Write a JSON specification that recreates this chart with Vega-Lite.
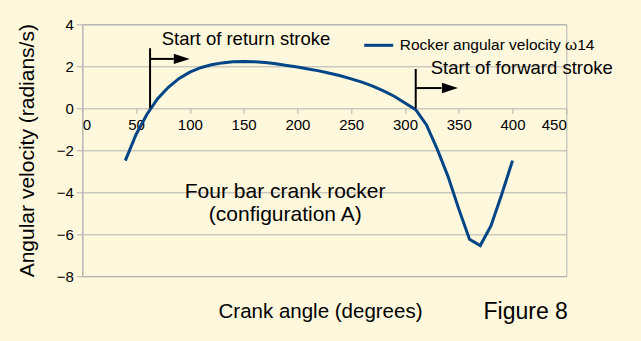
{
  "$schema": "https://vega.github.io/schema/vega-lite/v6.json",
  "width": 484,
  "height": 251.7,
  "autosize": {"type": "none"},
  "padding": {"left": 82.3, "top": 24.3, "right": 74.7, "bottom": 65},
  "background": "#fff8dc",
  "config": {
    "font": "Liberation Sans",
    "view": {"stroke": "#b3b3b3", "strokeWidth": 1}
  },
  "datasets": {
    "curve": [
      {"angle": 40, "omega": -2.5},
      {"angle": 50, "omega": -1.25},
      {"angle": 60, "omega": -0.3},
      {"angle": 70, "omega": 0.45},
      {"angle": 80, "omega": 1.0},
      {"angle": 90, "omega": 1.42},
      {"angle": 100, "omega": 1.72},
      {"angle": 110, "omega": 1.93},
      {"angle": 120, "omega": 2.07},
      {"angle": 130, "omega": 2.16},
      {"angle": 140, "omega": 2.21},
      {"angle": 150, "omega": 2.23},
      {"angle": 160, "omega": 2.22},
      {"angle": 170, "omega": 2.18},
      {"angle": 180, "omega": 2.12},
      {"angle": 190, "omega": 2.04},
      {"angle": 200, "omega": 1.96},
      {"angle": 210, "omega": 1.87},
      {"angle": 220, "omega": 1.78},
      {"angle": 230, "omega": 1.67},
      {"angle": 240, "omega": 1.55},
      {"angle": 250, "omega": 1.4},
      {"angle": 260, "omega": 1.24},
      {"angle": 270, "omega": 1.05},
      {"angle": 280, "omega": 0.83},
      {"angle": 290, "omega": 0.57},
      {"angle": 300, "omega": 0.25},
      {"angle": 310, "omega": -0.07},
      {"angle": 320, "omega": -0.8},
      {"angle": 330, "omega": -1.95},
      {"angle": 340, "omega": -3.25},
      {"angle": 350, "omega": -4.8},
      {"angle": 360, "omega": -6.25},
      {"angle": 370, "omega": -6.55},
      {"angle": 380, "omega": -5.6},
      {"angle": 390, "omega": -4.1},
      {"angle": 400, "omega": -2.5}
    ],
    "rules": [
      {"x": 63, "x2": 63, "y": 0, "y2": 2.86},
      {"x": 63, "x2": 85, "y": 2.35, "y2": 2.35},
      {"x": 310, "x2": 310, "y": 0, "y2": 1.87},
      {"x": 310, "x2": 334, "y": 0.96, "y2": 0.96}
    ],
    "heads": [
      {"x": 92.5, "y": 2.35},
      {"x": 341.8, "y": 0.96}
    ],
    "notes": [
      {"x": 73.8, "y": 3.03, "text": "Start of return stroke"},
      {"x": 324, "y": 1.645, "text": "Start of forward stroke"}
    ],
    "caption": [
      {"x": 188.6, "y": -4.28, "text": "Four bar crank rocker"},
      {"x": 188.7, "y": -5.38, "text": "(configuration A)"}
    ],
    "figure": [
      {"x": 373, "y": -10.04, "text": "Figure 8"}
    ]
  },
  "layer": [
    {
      "data": {"name": "curve"},
      "mark": {"type": "line", "strokeWidth": 3, "interpolate": "linear"},
      "encoding": {
        "x": {
          "field": "angle", "type": "quantitative",
          "scale": {"domain": [0, 450], "nice": false},
          "axis": {
            "orient": "bottom", "offset": -167.5,
            "values": [0, 50, 100, 150, 200, 250, 300, 350, 400, 450],
            "grid": false, "domain": false,
            "tickSize": 5, "tickColor": "#b3b3b3",
            "labelFontSize": 15, "labelColor": "#000000", "labelPadding": 4,
            "title": "Crank angle (degrees)",
            "titleFontSize": 20.5, "titleFontWeight": "normal", "titleColor": "#000000",
            "titleX": 237.7, "titleY": 209.2, "titleAlign": "center", "titleBaseline": "alphabetic"
          }
        },
        "y": {
          "field": "omega", "type": "quantitative",
          "scale": {"domain": [-8, 4], "nice": false},
          "axis": {
            "values": [-8, -6, -4, -2, 0, 2, 4],
            "grid": true, "gridColor": "#b3b3b3",
            "domain": true, "domainColor": "#b3b3b3",
            "tickSize": 6, "tickColor": "#b3b3b3",
            "labelFontSize": 15, "labelColor": "#000000", "labelPadding": 3,
            "title": "Angular velocity (radians/s)",
            "titleFontSize": 21, "titleFontWeight": "normal", "titleColor": "#000000",
            "titleX": -48.5, "titleY": 125.9, "titleAngle": -90,
            "titleAlign": "center", "titleBaseline": "alphabetic"
          }
        },
        "color": {
          "datum": "Rocker angular velocity ω14",
          "type": "nominal",
          "scale": {"range": ["#004586"]},
          "legend": {
            "title": null, "orient": "none", "legendX": 280.4, "legendY": 5,
            "padding": 0, "symbolType": "stroke", "symbolSize": 841,
            "symbolStrokeWidth": 3, "labelFontSize": 15.5, "labelColor": "#000000",
            "labelOffset": 5, "labelLimit": 400
          }
        }
      }
    },
    {
      "data": {"name": "rules"},
      "mark": {"type": "rule", "color": "#000000", "strokeWidth": 2},
      "encoding": {
        "x": {"field": "x", "type": "quantitative"},
        "x2": {"field": "x2"},
        "y": {"field": "y", "type": "quantitative"},
        "y2": {"field": "y2"}
      }
    },
    {
      "data": {"name": "heads"},
      "mark": {"type": "point", "shape": "M-1,-0.65L1,0L-1,0.65Z", "size": 256, "filled": true, "color": "#000000", "opacity": 1},
      "encoding": {
        "x": {"field": "x", "type": "quantitative"},
        "y": {"field": "y", "type": "quantitative"}
      }
    },
    {
      "data": {"name": "notes"},
      "mark": {"type": "text", "align": "left", "baseline": "alphabetic", "fontSize": 18.5, "color": "#000000"},
      "encoding": {
        "x": {"field": "x", "type": "quantitative"},
        "y": {"field": "y", "type": "quantitative"},
        "text": {"field": "text"}
      }
    },
    {
      "data": {"name": "caption"},
      "mark": {"type": "text", "align": "center", "baseline": "alphabetic", "fontSize": 21, "color": "#000000"},
      "encoding": {
        "x": {"field": "x", "type": "quantitative"},
        "y": {"field": "y", "type": "quantitative"},
        "text": {"field": "text"}
      }
    },
    {
      "data": {"name": "figure"},
      "mark": {"type": "text", "align": "left", "baseline": "alphabetic", "fontSize": 23, "color": "#000000"},
      "encoding": {
        "x": {"field": "x", "type": "quantitative"},
        "y": {"field": "y", "type": "quantitative"},
        "text": {"field": "text"}
      }
    }
  ]
}
